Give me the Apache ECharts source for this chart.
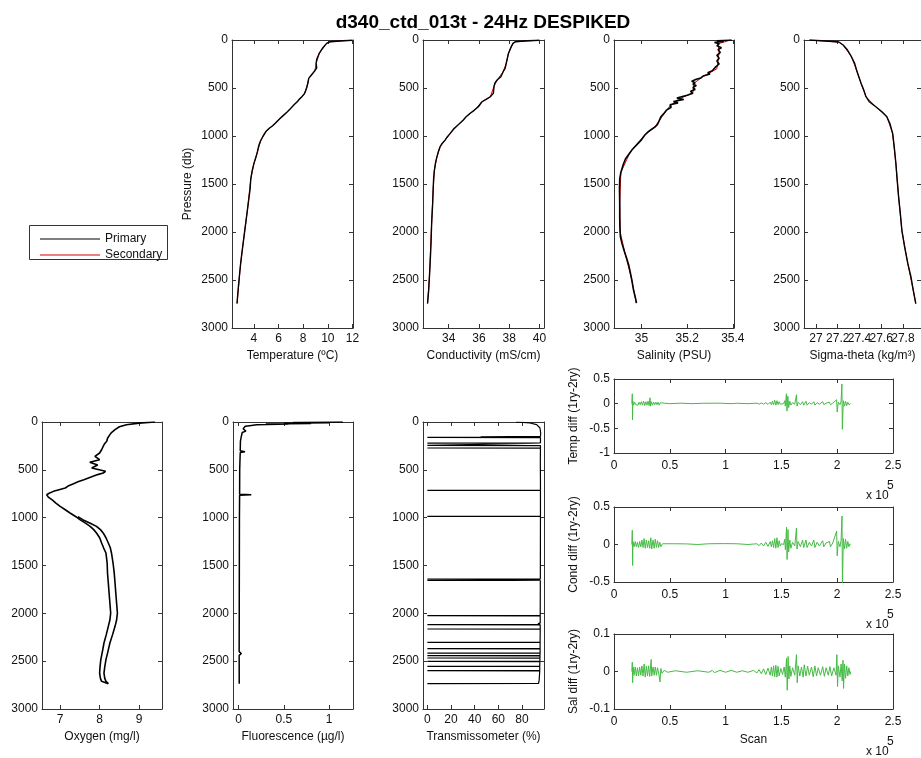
<!DOCTYPE html>
<html><head><meta charset="utf-8">
<script src="https://cdn.jsdelivr.net/npm/echarts@6/dist/echarts.min.js"></script>
<style>html,body{margin:0;padding:0;background:#fff}#c{width:921px;height:758px}</style>
</head><body><div id="c"></div>
<script>
// ---------------- DATA ([value, pressure] for profiles, [scan, diff] for diff panels) -------------
const titleText = 'd340_ctd_013t - 24Hz DESPIKED';

const tempPrimary = [[12.0,2],[11.2,8],[10.2,18],[9.9,35],[9.6,80],[9.3,140],[9.1,200],[9.05,245],[9.1,290],[8.95,320],[8.7,360],[8.45,400],[8.4,440],[8.3,490],[8.2,530],[8.1,560],[7.9,590],[7.7,615],[7.55,640],[7.3,670],[7.0,710],[6.7,750],[6.4,785],[6.1,820],[5.8,860],[5.55,890],[5.25,920],[5.0,950],[4.75,1000],[4.55,1050],[4.4,1100],[4.28,1170],[4.15,1230],[4.0,1290],[3.85,1370],[3.75,1450],[3.7,1550],[3.6,1650],[3.5,1750],[3.4,1850],[3.3,1950],[3.2,2050],[3.12,2130],[3.02,2230],[2.93,2330],[2.85,2430],[2.77,2540],[2.7,2640],[2.64,2745]];
const tempSecondary = [[12.0,2],[10.2,18],[9.9,35],[9.3,140],[9.05,245],[8.95,320],[8.45,400],[8.3,490],[8.1,560],[7.7,615],[7.3,670],[6.7,750],[6.1,820],[5.55,890],[5.0,950],[4.55,1050],[4.28,1170],[4.0,1290],[3.75,1450],[3.5,1750],[3.2,2050],[2.93,2330],[2.64,2745]];

const condPrimary = [[40.0,2],[39.2,8],[38.4,18],[38.25,35],[38.1,80],[37.95,140],[37.8,245],[37.73,295],[37.6,330],[37.45,383],[37.2,417],[37.05,450],[37.0,480],[36.95,556],[36.75,591],[36.5,615],[36.2,643],[35.96,695],[35.7,730],[35.4,765],[35.15,800],[34.97,834],[34.65,880],[34.35,921],[34.1,973],[33.9,1010],[33.76,1043],[33.55,1080],[33.43,1112],[33.3,1170],[33.2,1230],[33.12,1286],[33.05,1360],[33.0,1450],[32.97,1560],[32.94,1704],[32.9,1820],[32.87,1913],[32.83,2121],[32.78,2300],[32.73,2450],[32.68,2600],[32.6,2745]];
const condSecondary = [[40.0,2],[38.4,18],[38.25,35],[37.95,140],[37.8,245],[37.6,330],[37.2,417],[37.0,480],[36.75,591],[36.2,643],[35.7,730],[35.15,800],[34.65,880],[34.1,973],[33.76,1043],[33.43,1112],[33.2,1230],[33.05,1360],[32.97,1560],[32.87,1913],[32.73,2450],[32.6,2745]];

const salPrimary = [[35.395,0],[35.33,8],[35.36,15],[35.32,25],[35.34,40],[35.33,60],[35.35,80],[35.335,100],[35.345,130],[35.33,160],[35.34,190],[35.33,220],[35.34,250],[35.325,280],[35.33,300],[35.31,320],[35.29,340],[35.3,355],[35.27,375],[35.26,395],[35.24,410],[35.22,430],[35.235,445],[35.225,460],[35.24,475],[35.225,495],[35.235,515],[35.215,535],[35.225,555],[35.2,575],[35.205,590],[35.155,605],[35.185,620],[35.14,640],[35.16,655],[35.125,675],[35.13,700],[35.11,730],[35.1,760],[35.085,800],[35.078,840],[35.07,880],[35.06,905],[35.045,930],[35.03,955],[35.015,990],[35.0,1040],[34.98,1090],[34.96,1140],[34.945,1190],[34.93,1240],[34.92,1300],[34.91,1380],[34.905,1450],[34.904,1550],[34.905,1700],[34.905,1850],[34.906,1950],[34.908,2050],[34.915,2120],[34.925,2200],[34.935,2270],[34.945,2350],[34.952,2430],[34.958,2500],[34.965,2600],[34.975,2700],[34.978,2740]];
const salSecondary = [[35.39,0],[35.335,40],[35.34,130],[35.33,300],[35.27,380],[35.23,450],[35.225,550],[35.16,620],[35.12,700],[35.09,800],[35.06,900],[35.01,1000],[34.95,1170],[34.91,1380],[34.905,1700],[34.907,2000],[34.93,2240],[34.955,2470],[34.978,2740]];

const sigmaPrimary = [[26.94,0],[27.09,10],[27.21,21],[27.25,52],[27.29,104],[27.326,174],[27.356,243],[27.373,313],[27.394,382],[27.415,452],[27.44,522],[27.46,591],[27.49,643],[27.55,695],[27.607,748],[27.652,800],[27.68,869],[27.705,973],[27.72,1113],[27.735,1286],[27.747,1460],[27.76,1634],[27.776,1808],[27.79,1982],[27.815,2156],[27.845,2330],[27.874,2469],[27.895,2608],[27.918,2745]];
const sigmaSecondary = [[26.94,0],[27.21,21],[27.25,52],[27.326,174],[27.373,313],[27.415,452],[27.46,591],[27.55,695],[27.652,800],[27.705,973],[27.735,1286],[27.76,1634],[27.79,1982],[27.845,2330],[27.895,2608],[27.918,2745]];

const oxygenA = [[9.4,0],[9.0,12],[8.68,28],[8.5,50],[8.39,80],[8.3,110],[8.26,132],[8.2,170],[8.18,202],[8.12,230],[8.09,254],[8.05,290],[8.0,324],[7.88,359],[8.0,394],[7.75,420],[7.71,429],[7.95,450],[7.92,463],[7.8,480],[7.84,498],[8.15,515],[8.09,533],[7.95,550],[7.92,568],[7.6,603],[7.45,625],[7.34,645],[7.2,670],[7.13,690],[6.95,710],[6.83,725],[6.72,745],[6.66,760],[6.7,785],[6.79,812],[6.9,850],[7.0,882],[7.12,915],[7.25,951],[7.4,990],[7.5,1021],[7.65,1060],[7.76,1091],[7.85,1125],[7.92,1160],[8.0,1210],[8.05,1265],[8.1,1315],[8.16,1369],[8.19,1474],[8.2,1580],[8.22,1683],[8.24,1790],[8.26,1892],[8.28,1997],[8.26,2070],[8.22,2136],[8.17,2220],[8.11,2310],[8.07,2400],[8.03,2484],[8.01,2560],[8.0,2624],[8.02,2680],[8.05,2711],[8.22,2735]];
const oxygenB = [[7.45,990],[7.57,1021],[7.75,1055],[7.92,1091],[8.02,1125],[8.09,1160],[8.16,1210],[8.22,1265],[8.27,1315],[8.3,1369],[8.34,1474],[8.37,1580],[8.39,1683],[8.41,1790],[8.43,1892],[8.45,1997],[8.43,2070],[8.39,2136],[8.33,2220],[8.26,2310],[8.21,2400],[8.16,2484],[8.13,2560],[8.11,2624],[8.13,2680],[8.16,2711],[8.22,2735]];

const fluoPrimary = [[1.15,0],[0.6,5],[1.0,8],[0.5,12],[0.8,15],[0.3,20],[0.55,22],[0.2,28],[0.12,38],[0.073,45],[0.06,55],[0.05,70],[0.08,95],[0.04,110],[0.03,150],[0.02,200],[0.018,300],[0.07,310],[0.018,318],[0.015,400],[0.012,500],[0.011,755],[0.14,760],[0.011,765],[0.009,1000],[0.008,1500],[0.007,2000],[0.006,2400],[0.03,2420],[0.006,2440],[0.007,2735]];

const transPrimary = [[75,0],[86.7,10],[92.4,28],[95.2,63],[95.8,115],[95.6,150],[45,155],[95.6,157],[95.6,159],[0,161],[95.6,163],[95.6,218],[0,220],[95.6,222],[95.6,242],[0,244],[95.6,246],[95.6,270],[0,272],[95.6,274],[95.5,400],[94.8,420],[95.5,440],[95.6,600],[95.6,712],[0,714],[95.6,716],[95.6,984],[0,986],[95.6,988],[94,1000],[95.6,1010],[95.5,1639],[0,1641],[95.5,1645],[0,1655],[95.5,1657],[95.4,2022],[0,2024],[95.4,2026],[95.4,2100],[93.5,2110],[95.4,2116],[0,2118],[95.4,2120],[95.4,2162],[0,2164],[95.4,2166],[95.3,2301],[0,2303],[95.3,2305],[95.3,2367],[0,2369],[95.3,2371],[95.3,2413],[0,2415],[95.3,2417],[95.2,2440],[0,2442],[95.2,2444],[95.2,2465],[0,2467],[95.2,2469],[95.1,2500],[0,2502],[95.1,2504],[95.0,2552],[0,2554],[95.0,2556],[95.0,2597],[0,2599],[95.0,2601],[94.5,2700],[94,2733],[0,2735]];

const tempDiff = [[16000,0],[16400,0.2],[16600,-0.33],[16900,0.05],[17500,-0.03],[18500,0.03],[19500,-0.02],[20500,0.02],[21500,-0.03],[22500,0.03],[23500,-0.02],[24500,0.04],[25500,-0.03],[26500,0.05],[27500,-0.04],[28500,0.04],[29500,-0.03],[30500,0.05],[31500,-0.04],[32300,0.12],[32800,-0.05],[33500,0.04],[34500,-0.03],[35500,0.03],[36500,-0.02],[37500,0.03],[38500,-0.02],[39500,0.03],[40500,-0.03],[41500,0.02],[43000,-0.01],[45000,0.01],[50000,0],[60000,0.01],[60500,-0.005],[70000,0],[80000,0.008],[80500,0],[95000,0.01],[95500,-0.005],[105000,0],[110000,0.008],[120000,0],[128000,0.01],[130000,-0.01],[132000,0.015],[134000,-0.01],[136000,0.02],[138000,-0.015],[140000,0.03],[141000,-0.02],[142000,0.05],[143000,-0.02],[144000,0.07],[145000,-0.03],[146000,0.06],[147000,-0.02],[148000,0.04],[149000,-0.01],[150000,0.01],[152000,0],[153000,0.06],[153500,-0.05],[154500,0.2],[155000,-0.15],[155800,0.15],[156500,-0.08],[157500,0.05],[158500,-0.03],[160000,0.02],[162000,-0.01],[163500,0.18],[164000,-0.05],[165000,0.03],[167000,-0.02],[169000,0.04],[170000,-0.03],[172000,0.05],[173000,-0.03],[175000,0.02],[177000,-0.01],[179000,0.04],[180000,-0.03],[182000,0.02],[184000,-0.01],[187000,0.04],[188000,-0.02],[190000,0.01],[193000,0.03],[194000,-0.02],[196000,0.01],[199500,0.08],[200000,-0.17],[201000,0.03],[202500,-0.02],[203500,0.05],[204200,0.4],[204600,-0.52],[205500,0.06],[206500,-0.05],[207500,0.05],[208500,-0.04],[209500,0.03],[210500,-0.02],[211500,0.01],[212000,0]];

const condDiff = [[16000,0],[16400,0.19],[16700,-0.28],[17000,0.04],[18000,-0.03],[19000,0.04],[20000,-0.03],[21000,0.03],[22000,-0.04],[23000,0.04],[24000,-0.03],[25000,0.06],[26000,-0.04],[27000,0.08],[28000,-0.05],[29000,0.06],[30000,-0.04],[31000,0.05],[32000,-0.05],[33000,0.09],[33800,-0.06],[35000,0.06],[36000,-0.05],[37000,0.07],[38000,-0.04],[39000,0.05],[40000,-0.04],[41000,0.03],[42000,-0.03],[43500,0.01],[45000,0],[55000,0.01],[55300,-0.005],[65000,0.008],[75000,0],[85000,0.01],[85300,-0.005],[98000,0.012],[98300,-0.008],[110000,0.01],[120000,0],[128000,0.01],[130000,-0.015],[132000,0.02],[134000,-0.02],[136000,0.03],[138000,-0.025],[140000,0.04],[141000,-0.03],[142000,0.05],[143000,-0.04],[144000,0.08],[145000,-0.05],[146000,0.09],[147000,-0.04],[148000,0.05],[149000,-0.02],[150000,0.01],[152000,0],[153000,0.07],[153600,-0.07],[154600,0.23],[155100,-0.2],[155900,0.2],[156500,-0.1],[157500,0.06],[158500,-0.05],[160000,0.03],[162000,-0.02],[163500,0.22],[164000,-0.06],[165000,0.04],[167000,-0.03],[169000,0.06],[170000,-0.04],[172000,0.06],[173000,-0.04],[175000,0.03],[177000,-0.02],[179000,0.06],[180000,-0.04],[182000,0.03],[184000,-0.02],[187000,0.05],[188000,-0.03],[190000,0.02],[193000,0.04],[194000,-0.03],[196000,0.02],[199500,0.18],[200000,-0.15],[201000,0.04],[202500,-0.03],[203500,0.06],[204300,0.38],[204700,-0.55],[205500,0.08],[206500,-0.06],[207500,0.07],[208500,-0.05],[209500,0.04],[210500,-0.03],[211500,0.01],[212000,0]];

const salDiff = [[16000,0],[16400,0.025],[16700,-0.03],[17200,0.012],[18000,-0.01],[19000,0.012],[20000,-0.012],[21000,0.01],[22000,-0.012],[23000,0.012],[24000,-0.01],[25000,0.015],[26000,-0.012],[27000,0.02],[28000,-0.015],[29000,0.014],[30000,-0.012],[31000,0.015],[32000,-0.013],[33300,0.032],[33800,-0.012],[35000,0.012],[36000,-0.01],[37000,0.012],[38000,-0.01],[39000,0.01],[40500,-0.012],[41200,-0.028],[42000,0.008],[43000,-0.005],[45000,0.003],[48000,-0.002],[55000,0.002],[65000,-0.002],[75000,0.002],[85000,-0.002],[88000,0.003],[90000,-0.003],[95000,0.003],[100000,-0.002],[105000,0.003],[110000,-0.002],[115000,0.002],[120000,-0.002],[125000,0.003],[128000,-0.004],[130000,0.005],[132000,-0.006],[134000,0.007],[136000,-0.008],[138000,0.009],[140000,-0.01],[141000,0.012],[142000,-0.012],[143000,0.015],[144000,-0.014],[145000,0.017],[146000,-0.015],[147000,0.014],[148000,-0.012],[149500,0.008],[151000,-0.008],[152500,0.012],[153500,-0.015],[154600,0.035],[155200,-0.05],[156000,0.04],[156700,-0.02],[157500,0.015],[158500,-0.013],[160000,0.01],[162000,-0.01],[163500,0.045],[164200,-0.03],[165000,0.015],[166500,-0.012],[168000,0.012],[169500,-0.015],[170500,0.018],[172000,-0.012],[173500,0.014],[175000,-0.01],[177000,0.012],[178500,-0.014],[180000,0.015],[181500,-0.012],[183000,0.01],[185000,-0.01],[187000,0.013],[188500,-0.013],[190000,0.01],[192000,-0.01],[193500,0.013],[195000,-0.012],[197000,0.01],[199000,-0.01],[199700,0.045],[200300,-0.04],[201000,0.015],[202500,-0.015],[203500,0.02],[204500,-0.025],[205200,0.03],[205700,-0.045],[206500,0.02],[207500,-0.018],[208500,0.015],[209500,-0.012],[210500,0.01],[211500,-0.008],[212000,0]];

// tick values
const pressureTicks = [0,500,1000,1500,2000,2500,3000];
const tempTicks = [4,6,8,10,12];
const condTicks = [34,36,38,40];
const salTicks = [35,35.2,35.4];
const sigmaTicks = [27,27.2,27.4,27.6,27.8];
const sigmaLabelsA = [27,27.4,27.8];
const sigmaLabelsB = [27.2,27.6];
const oxyTicks = [7,8,9];
const fluoTicks = [0,0.5,1];
const transTicks = [0,20,40,60,80];
const scanTicks = [0,50000,100000,150000,200000,250000];
const tdiffTicks = [-1,-0.5,0,0.5];
const cdiffTicks = [-0.5,0,0.5];
const sdiffTicks = [-0.1,0,0.1];

// ---------------- LAYOUT -------------
const FONT = 'Liberation Sans, Arial, sans-serif';
const AX = '#333';
const TXT = '#111';
const GREEN = '#45bb45';

const panels = [
  {g:[232,40,121,288], x:[2.23,12.04], xt:tempTicks, y:[0,3000], yt:pressureTicks, inv:true, xn:'Temperature (ºC)', yn:'Pressure (db)',
   s:[{d:tempSecondary,c:'#e00000',w:1,n:'Secondary'},{d:tempPrimary,c:'#000',w:1.4,n:'Primary'}]},
  {g:[423,40,121,288], x:[32.3,40.3], xt:condTicks, y:[0,3000], yt:pressureTicks, inv:true, xn:'Conductivity (mS/cm)',
   s:[{d:condSecondary,c:'#e00000',w:1,n:'Secondary'},{d:condPrimary,c:'#000',w:1.4,n:'Primary'}]},
  {g:[614,40,120,288], x:[34.88,35.405], xt:salTicks, y:[0,3000], yt:pressureTicks, inv:true, xn:'Salinity (PSU)',
   s:[{d:salSecondary,c:'#e00000',w:1,n:'Secondary'},{d:salPrimary,c:'#000',w:1.6,n:'Primary'}]},
  {g:[804,40,121,288], x:[26.89,27.966], xt:sigmaTicks, xl:sigmaLabelsA, xl2:sigmaLabelsB, y:[0,3000], yt:pressureTicks, inv:true, xn:'Sigma-theta (kg/m³)',
   s:[{d:sigmaSecondary,c:'#e00000',w:1,n:'Secondary'},{d:sigmaPrimary,c:'#000',w:1.4,n:'Primary'}]},
  {g:[42,422,120,287], x:[6.54,9.58], xt:oxyTicks, y:[0,3000], yt:pressureTicks, inv:true, xn:'Oxygen (mg/l)',
   s:[{d:oxygenB,c:'#000',w:1.6,n:'Oxygen 2'},{d:oxygenA,c:'#000',w:1.6,n:'Oxygen'}]},
  {g:[233,422,120,287], x:[-0.062,1.263], xt:fluoTicks, y:[0,3000], yt:pressureTicks, inv:true, xn:'Fluorescence (µg/l)',
   s:[{d:fluoPrimary,c:'#000',w:1.5,n:'Fluorescence'}]},
  {g:[423,422,121,287], x:[-3.7,98.6], xt:transTicks, y:[0,3000], yt:pressureTicks, inv:true, xn:'Transmissometer (%)',
   s:[{d:transPrimary,c:'#000',w:1.2,n:'Transmissometer'}]},
  {g:[614,379,279,74], x:[0,250000], xt:scanTicks, y:[-1,0.5], yt:tdiffTicks, inv:false, yn:'Temp diff (1ry-2ry)', sc:true,
   s:[{d:tempDiff,c:GREEN,w:1,n:'Temp diff'}]},
  {g:[614,507,279,75], x:[0,250000], xt:scanTicks, y:[-0.5,0.5], yt:cdiffTicks, inv:false, yn:'Cond diff (1ry-2ry)', sc:true,
   s:[{d:condDiff,c:GREEN,w:1,n:'Cond diff'}]},
  {g:[614,634,279,75], x:[0,250000], xt:scanTicks, y:[-0.1,0.1], yt:sdiffTicks, inv:false, yn:'Sal diff (1ry-2ry)', sc:true, xn:'Scan',
   s:[{d:salDiff,c:GREEN,w:1,n:'Sal diff'}]}
];

const grid = [], xAxis = [], yAxis = [], series = [];
const tick = (vals) => ({show:true, inside:true, length:4, customValues:vals, lineStyle:{color:AX, width:1}});
const line = {show:true, onZero:false, lineStyle:{color:AX, width:1}};
const extraX = [];
panels.forEach((p, i) => {
  grid.push({left:p.g[0], top:p.g[1], width:p.g[2], height:p.g[3], containLabel:false});
  const xfmt = p.sc ? (v => String(+(v/1e5).toFixed(2))) : (v => String(+v.toFixed(3)));
  const yfmt = v => String(+v.toFixed(3));
  const xlab = {interval:0, margin:p.sc?7:5, fontSize:12, color:TXT, fontFamily:FONT, formatter:xfmt, hideOverlap:false};
  xAxis.push({type:'value', gridIndex:i, position:'bottom', min:p.x[0], max:p.x[1],
    axisLine:line, axisTick:tick(p.xt), splitLine:{show:false},
    axisLabel:Object.assign({customValues:p.xl||p.xt}, xlab),
    name:p.xn||'', nameLocation:'middle', nameGap:p.sc?25:22, nameTextStyle:{fontSize:12, color:TXT, fontFamily:FONT}});
  xAxis.push({type:'value', gridIndex:i, position:'top', min:p.x[0], max:p.x[1],
    axisLine:line, axisTick:tick(p.xt), axisLabel:{show:false}, splitLine:{show:false}});
  if (p.xl2) {
    extraX.push({type:'value', gridIndex:i, position:'bottom', offset:0, min:p.x[0], max:p.x[1],
      axisLine:{show:false, onZero:false}, axisTick:{show:false}, splitLine:{show:false},
      axisLabel:Object.assign({customValues:p.xl2}, xlab)});
  }
  yAxis.push({type:'value', gridIndex:i, position:'left', min:p.y[0], max:p.y[1], inverse:p.inv,
    axisLine:line, axisTick:tick(p.yt), splitLine:{show:false},
    axisLabel:{customValues:p.yt, interval:0, margin:4, fontSize:12, color:TXT, fontFamily:FONT, formatter:yfmt},
    name:p.yn||'', nameLocation:'middle', nameGap:p.sc?34:38, nameTextStyle:{fontSize:12, color:TXT, fontFamily:FONT}});
  yAxis.push({type:'value', gridIndex:i, position:'right', min:p.y[0], max:p.y[1], inverse:p.inv,
    axisLine:line, axisTick:tick(p.yt), axisLabel:{show:false}, splitLine:{show:false}});
  p.s.forEach(s => {
    series.push({type:'line', name:s.n, xAxisIndex:2*i, yAxisIndex:2*i, data:s.d, symbol:'none',
      lineStyle:{color:s.c, width:s.w}, itemStyle:{color:s.c}, animation:false, silent:true, clip:true});
  });
});
extraX.forEach(a => xAxis.push(a));

const sciLabels = [];
[453, 582, 709].forEach(b => {
  sciLabels.push({type:'text', left:866, top:b+37, style:{text:'x 10', font:'12px '+FONT, fill:TXT}});
  sciLabels.push({type:'text', left:887, top:b+27, style:{text:'5', font:'12px '+FONT, fill:TXT}});
});

const option = {
  backgroundColor:'#fff',
  animation:false,
  grid, xAxis, yAxis, series,
  legend:{data:['Primary','Secondary'], left:40, top:233, orient:'vertical', padding:0, icon:'rect',
    itemWidth:60, itemHeight:1, itemGap:4, selectedMode:false,
    textStyle:{fontSize:12, color:TXT, fontFamily:FONT, lineHeight:12}},
  graphic:[
    {type:'text', x:483, y:23, style:{text:titleText, font:'bold 19px '+FONT, fill:'#000', align:'center', verticalAlign:'middle'}},
    {type:'rect', shape:{x:29.5, y:225.5, width:138, height:34}, style:{fill:'#fff', stroke:AX, lineWidth:1}, z:-10},
    ...sciLabels
  ]
};
const chart = echarts.init(document.getElementById('c'), null, {renderer:'canvas'});
chart.setOption(option);
</script></body></html>
